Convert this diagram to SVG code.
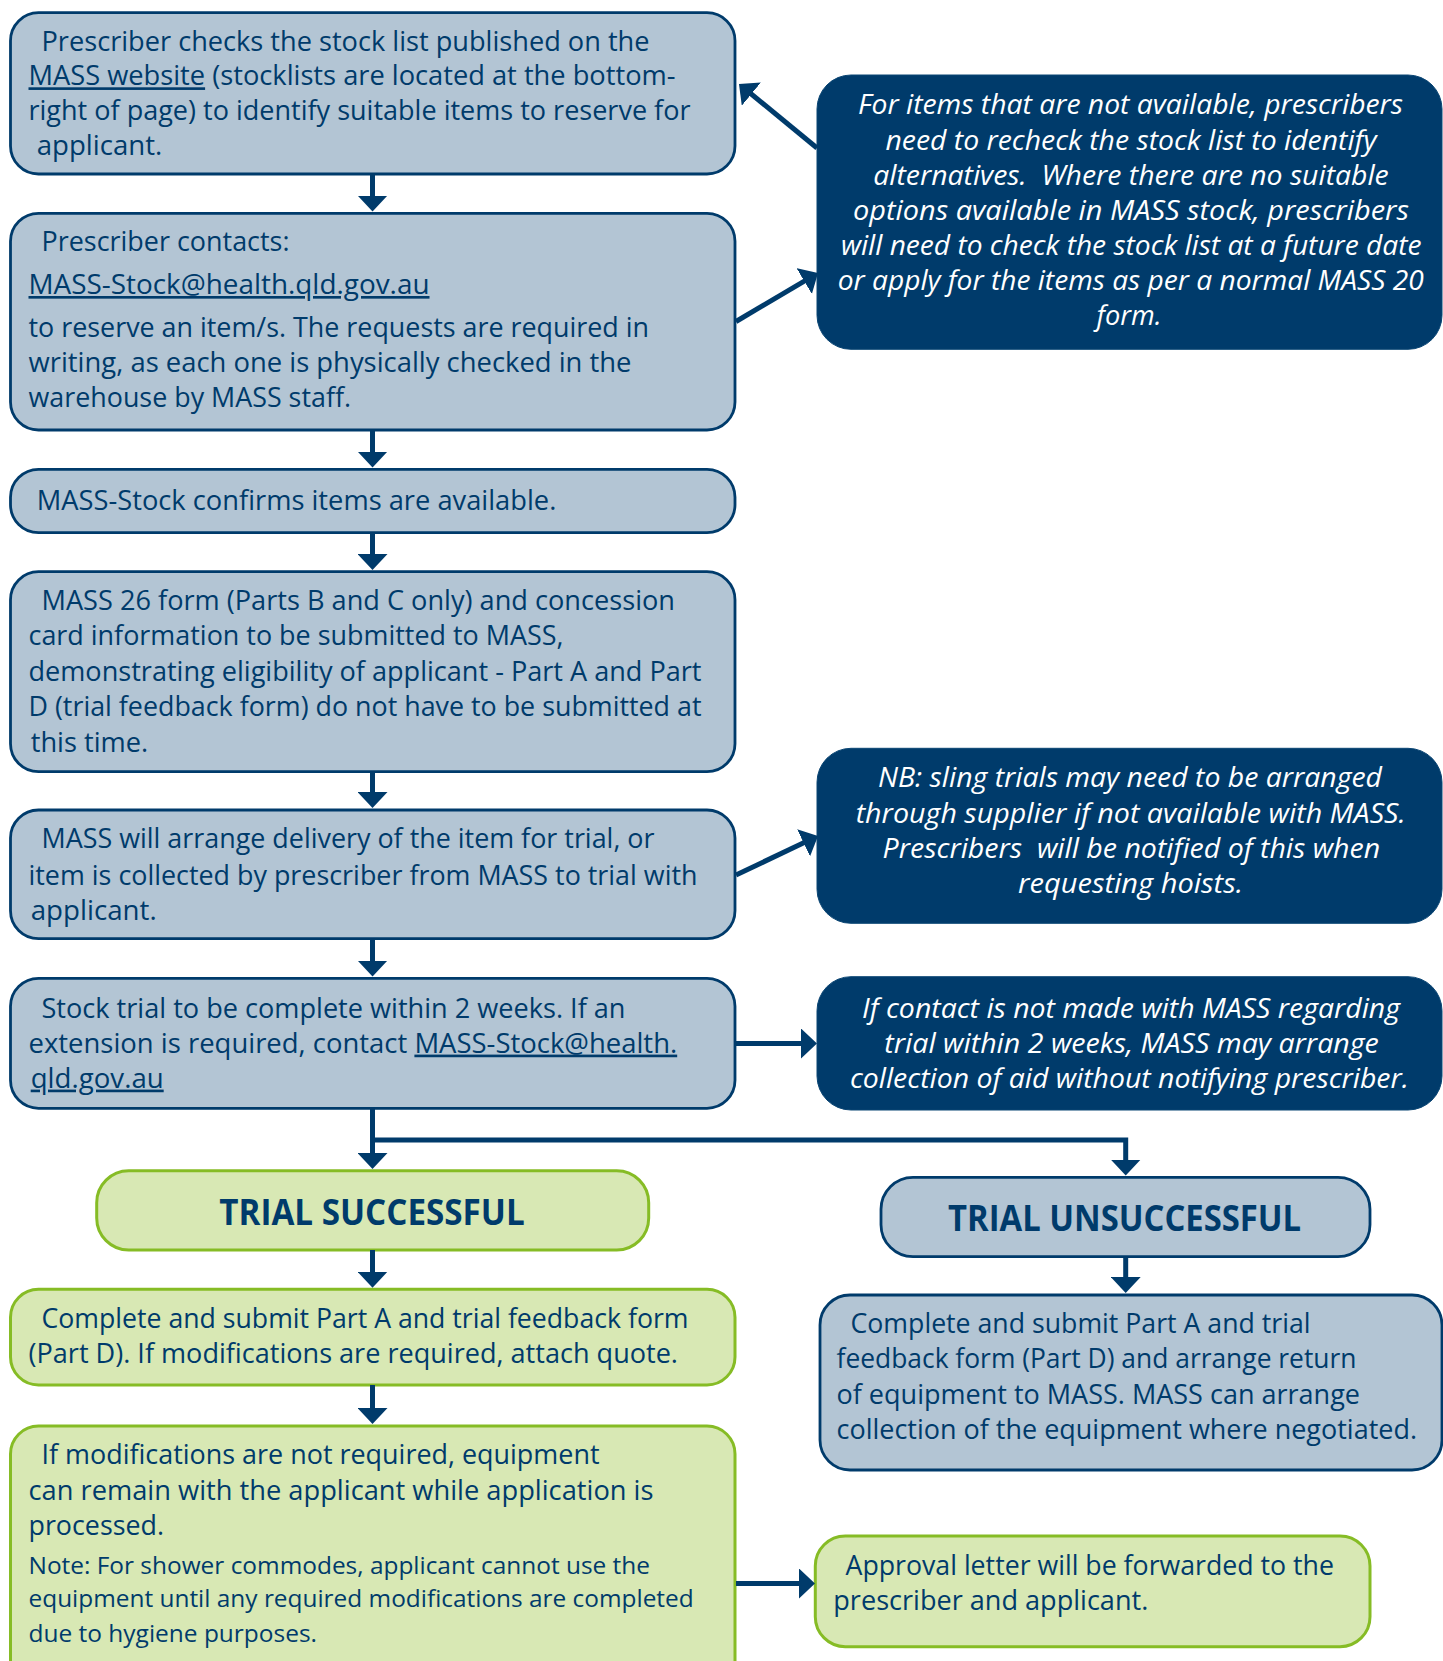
<svg xmlns="http://www.w3.org/2000/svg" width="1443" height="1661" viewBox="0 0 1443 1661">
<defs>
<style>
.lb{fill:#b3c5d4;stroke:#003b6b;stroke-width:2.8}
.gb{fill:#d8e8b4;stroke:#86bc25;stroke-width:3}
.db{fill:#003b6b;stroke:#0b4674;stroke-width:1}
.t{font-family:"Open Sans","Noto Sans",sans-serif;font-size:26.5px;fill:#003b6b}
.n{font-size:23.5px}
.w{fill:#ffffff;font-style:italic;text-anchor:middle}
.h{font-weight:700;font-size:36px;text-anchor:middle}
.u{text-decoration:underline}
.p{white-space:pre}
.c{stroke:#003b6b;stroke-width:5;fill:none;marker-end:url(#ah)}
</style>
<marker id="ah" markerUnits="userSpaceOnUse" markerWidth="16" markerHeight="30" viewBox="0 0 16 30" refX="6" refY="15" orient="auto">
<path d="M0,0 L16,15 L0,30 z" fill="#003b6b"/>
</marker>
</defs>
<rect width="1443" height="1661" fill="#ffffff"/>

<g id="n1">
<rect class="lb" x="10.5" y="12.7" width="724.5" height="161.3" rx="28"/>
<text class="t" x="41.5" y="50.7" textLength="608" lengthAdjust="spacingAndGlyphs">Prescriber checks the stock list published on the</text>
<text class="t" x="28.5" y="85.3" textLength="647" lengthAdjust="spacingAndGlyphs"><tspan class="u">MASS website</tspan> (stocklists are located at the bottom-</text>
<text class="t" x="28.5" y="120.2" textLength="662" lengthAdjust="spacingAndGlyphs">right of page) to identify suitable items to reserve for</text>
<text class="t" x="36.8" y="155" textLength="125.5" lengthAdjust="spacingAndGlyphs">applicant.</text>
</g>

<g id="n2">
<rect class="lb" x="10.5" y="213.3" width="724.5" height="216.7" rx="28"/>
<text class="t" x="41.5" y="250.7" textLength="248" lengthAdjust="spacingAndGlyphs">Prescriber contacts:</text>
<text class="t u" x="28.5" y="294" textLength="401" lengthAdjust="spacingAndGlyphs">MASS-Stock@health.qld.gov.au</text>
<text class="t" x="28.5" y="337.3" textLength="620.5" lengthAdjust="spacingAndGlyphs">to reserve an item/s. The requests are required in</text>
<text class="t" x="28.5" y="371.8" textLength="603" lengthAdjust="spacingAndGlyphs">writing, as each one is physically checked in the</text>
<text class="t" x="28.5" y="406.7" textLength="322.5" lengthAdjust="spacingAndGlyphs">warehouse by MASS staff.</text>
</g>

<g id="n3">
<rect class="lb" x="10.5" y="469.3" width="724.5" height="63.4" rx="28"/>
<text class="t" x="36.8" y="510" textLength="519.5" lengthAdjust="spacingAndGlyphs">MASS-Stock confirms items are available.</text>
</g>

<g id="n4">
<rect class="lb" x="10.5" y="571.7" width="724.5" height="200" rx="28"/>
<text class="t" x="41.5" y="610" textLength="633.5" lengthAdjust="spacingAndGlyphs">MASS 26 form (Parts B and C only) and concession</text>
<text class="t" x="28.5" y="645" textLength="535" lengthAdjust="spacingAndGlyphs">card information to be submitted to MASS,</text>
<text class="t" x="28.5" y="680.7" textLength="673" lengthAdjust="spacingAndGlyphs">demonstrating eligibility of applicant - Part A and Part</text>
<text class="t" x="28.5" y="716" textLength="673" lengthAdjust="spacingAndGlyphs">D (trial feedback form) do not have to be submitted at</text>
<text class="t" x="30.7" y="751.5" textLength="117.5" lengthAdjust="spacingAndGlyphs">this time.</text>
</g>

<g id="n5">
<rect class="lb" x="10.5" y="810" width="724.5" height="128.7" rx="28"/>
<text class="t" x="41.5" y="848.3" textLength="613" lengthAdjust="spacingAndGlyphs">MASS will arrange delivery of the item for trial, or</text>
<text class="t" x="28.5" y="884.5" textLength="669" lengthAdjust="spacingAndGlyphs">item is collected by prescriber from MASS to trial with</text>
<text class="t" x="30.7" y="919.8" textLength="126" lengthAdjust="spacingAndGlyphs">applicant.</text>
</g>

<g id="n6">
<rect class="lb" x="10.5" y="978.3" width="724.5" height="130" rx="28"/>
<text class="t" x="41.5" y="1017.6" textLength="584" lengthAdjust="spacingAndGlyphs">Stock trial to be complete within 2 weeks. If an</text>
<text class="t" x="28.5" y="1052.6" textLength="648.7" lengthAdjust="spacingAndGlyphs">extension is required, contact <tspan class="u">MASS-Stock@health.</tspan></text>
<text class="t u" x="30.7" y="1087.6" textLength="133" lengthAdjust="spacingAndGlyphs">qld.gov.au</text>
</g>

<g id="nA">
<rect class="db" x="817" y="75" width="625" height="274.3" rx="34"/>
<text class="t w" x="1130.5" y="114.3" textLength="545" lengthAdjust="spacingAndGlyphs">For items that are not available, prescribers</text>
<text class="t w" x="1131" y="149.8" textLength="491" lengthAdjust="spacingAndGlyphs">need to recheck the stock list to identify</text>
<text class="t w p" x="1131" y="184.8" textLength="515.5" lengthAdjust="spacingAndGlyphs">alternatives.  Where there are no suitable</text>
<text class="t w" x="1131" y="219.8" textLength="556" lengthAdjust="spacingAndGlyphs">options available in MASS stock, prescribers</text>
<text class="t w" x="1131.2" y="255" textLength="580.6" lengthAdjust="spacingAndGlyphs">will need to check the stock list at a future date</text>
<text class="t w" x="1130.7" y="290" textLength="586" lengthAdjust="spacingAndGlyphs">or apply for the items as per a normal MASS 20</text>
<text class="t w" x="1129" y="325" textLength="65" lengthAdjust="spacingAndGlyphs">form.</text>
</g>

<g id="nB">
<rect class="db" x="817" y="748.3" width="625" height="175" rx="34"/>
<text class="t w" x="1130" y="787.3" textLength="504" lengthAdjust="spacingAndGlyphs">NB: sling trials may need to be arranged</text>
<text class="t w" x="1130.7" y="822.5" textLength="550" lengthAdjust="spacingAndGlyphs">through supplier if not available with MASS.</text>
<text class="t w p" x="1131.4" y="857.7" textLength="497.6" lengthAdjust="spacingAndGlyphs">Prescribers  will be notified of this when</text>
<text class="t w" x="1130.5" y="892.7" textLength="225" lengthAdjust="spacingAndGlyphs">requesting hoists.</text>
</g>

<g id="nC">
<rect class="db" x="817" y="976.7" width="625" height="133.3" rx="34"/>
<text class="t w" x="1131" y="1018.2" textLength="538" lengthAdjust="spacingAndGlyphs">If contact is not made with MASS regarding</text>
<text class="t w" x="1131.6" y="1053.2" textLength="494.5" lengthAdjust="spacingAndGlyphs">trial within 2 weeks, MASS may arrange</text>
<text class="t w" x="1129.4" y="1088.2" textLength="559" lengthAdjust="spacingAndGlyphs">collection of aid without notifying prescriber.</text>
</g>

<g id="nTS">
<rect class="gb" x="96.7" y="1170.7" width="552" height="79.3" rx="32"/>
<text class="t h" x="372" y="1225.2" textLength="305.4" lengthAdjust="spacingAndGlyphs">TRIAL SUCCESSFUL</text>
</g>

<g id="nTU">
<rect class="lb" x="881" y="1177.3" width="489" height="79.4" rx="32"/>
<text class="t h" x="1124.6" y="1230.7" textLength="353" lengthAdjust="spacingAndGlyphs">TRIAL UNSUCCESSFUL</text>
</g>

<g id="nG1">
<rect class="gb" x="10.5" y="1289.3" width="724.5" height="95.7" rx="28"/>
<text class="t" x="41.5" y="1328" textLength="647" lengthAdjust="spacingAndGlyphs">Complete and submit Part A and trial feedback form</text>
<text class="t" x="28.5" y="1363" textLength="649.5" lengthAdjust="spacingAndGlyphs">(Part D). If modifications are required, attach quote.</text>
</g>

<g id="nG2">
<rect class="gb" x="10.5" y="1426" width="724.5" height="270" rx="28"/>
<text class="t" x="41.5" y="1464.3" textLength="558" lengthAdjust="spacingAndGlyphs">If modifications are not required, equipment</text>
<text class="t" x="28.5" y="1499.5" textLength="625" lengthAdjust="spacingAndGlyphs">can remain with the applicant while application is</text>
<text class="t" x="28.5" y="1535.2" textLength="135.5" lengthAdjust="spacingAndGlyphs">processed.</text>
<text class="t n" x="28.5" y="1574.3" textLength="621.5" lengthAdjust="spacingAndGlyphs">Note: For shower commodes, applicant cannot use the</text>
<text class="t n" x="28.5" y="1606.8" textLength="665.2" lengthAdjust="spacingAndGlyphs">equipment until any required modifications are completed</text>
<text class="t n" x="28.5" y="1641.5" textLength="288.5" lengthAdjust="spacingAndGlyphs">due to hygiene purposes.</text>
</g>

<g id="nU2">
<rect class="lb" x="820" y="1295" width="622" height="175" rx="30"/>
<text class="t" x="850.5" y="1333" textLength="460" lengthAdjust="spacingAndGlyphs">Complete and submit Part A and trial</text>
<text class="t" x="836.5" y="1368.2" textLength="520" lengthAdjust="spacingAndGlyphs">feedback form (Part D) and arrange return</text>
<text class="t" x="836.5" y="1404" textLength="523.5" lengthAdjust="spacingAndGlyphs">of equipment to MASS. MASS can arrange</text>
<text class="t" x="836.5" y="1439.2" textLength="580.5" lengthAdjust="spacingAndGlyphs">collection of the equipment where negotiated.</text>
</g>

<g id="nAP">
<rect class="gb" x="815.3" y="1536" width="554.7" height="110.7" rx="30"/>
<text class="t" x="845.5" y="1575" textLength="488.5" lengthAdjust="spacingAndGlyphs">Approval letter will be forwarded to the</text>
<text class="t" x="833.3" y="1609.6" textLength="315" lengthAdjust="spacingAndGlyphs">prescriber and applicant.</text>
</g>

<g id="connectors">
<line class="c" x1="372.5" y1="174" x2="372.5" y2="201.5"/>
<line class="c" x1="372.5" y1="430" x2="372.5" y2="457.5"/>
<line class="c" x1="372.5" y1="532.7" x2="372.5" y2="560"/>
<line class="c" x1="372.5" y1="771.7" x2="372.5" y2="798"/>
<line class="c" x1="372.5" y1="938.7" x2="372.5" y2="966.5"/>
<line class="c" x1="372.5" y1="1108.3" x2="372.5" y2="1159"/>
<path class="c" d="M372.5,1140 H1125.7 V1165.5"/>
<line class="c" x1="372.5" y1="1250" x2="372.5" y2="1277.7"/>
<line class="c" x1="372.5" y1="1385" x2="372.5" y2="1414"/>
<line class="c" x1="1125.7" y1="1256.7" x2="1125.7" y2="1283"/>
<line class="c" x1="817" y1="148" x2="746.7" y2="90.3"/>
<line class="c" x1="736" y1="321.5" x2="809.4" y2="278.1"/>
<line class="c" x1="736" y1="875" x2="809" y2="840.3"/>
<line class="c" x1="736" y1="1043.5" x2="807" y2="1043.5"/>
<line class="c" x1="736" y1="1583.5" x2="805" y2="1583.5"/>
</g>
</svg>
